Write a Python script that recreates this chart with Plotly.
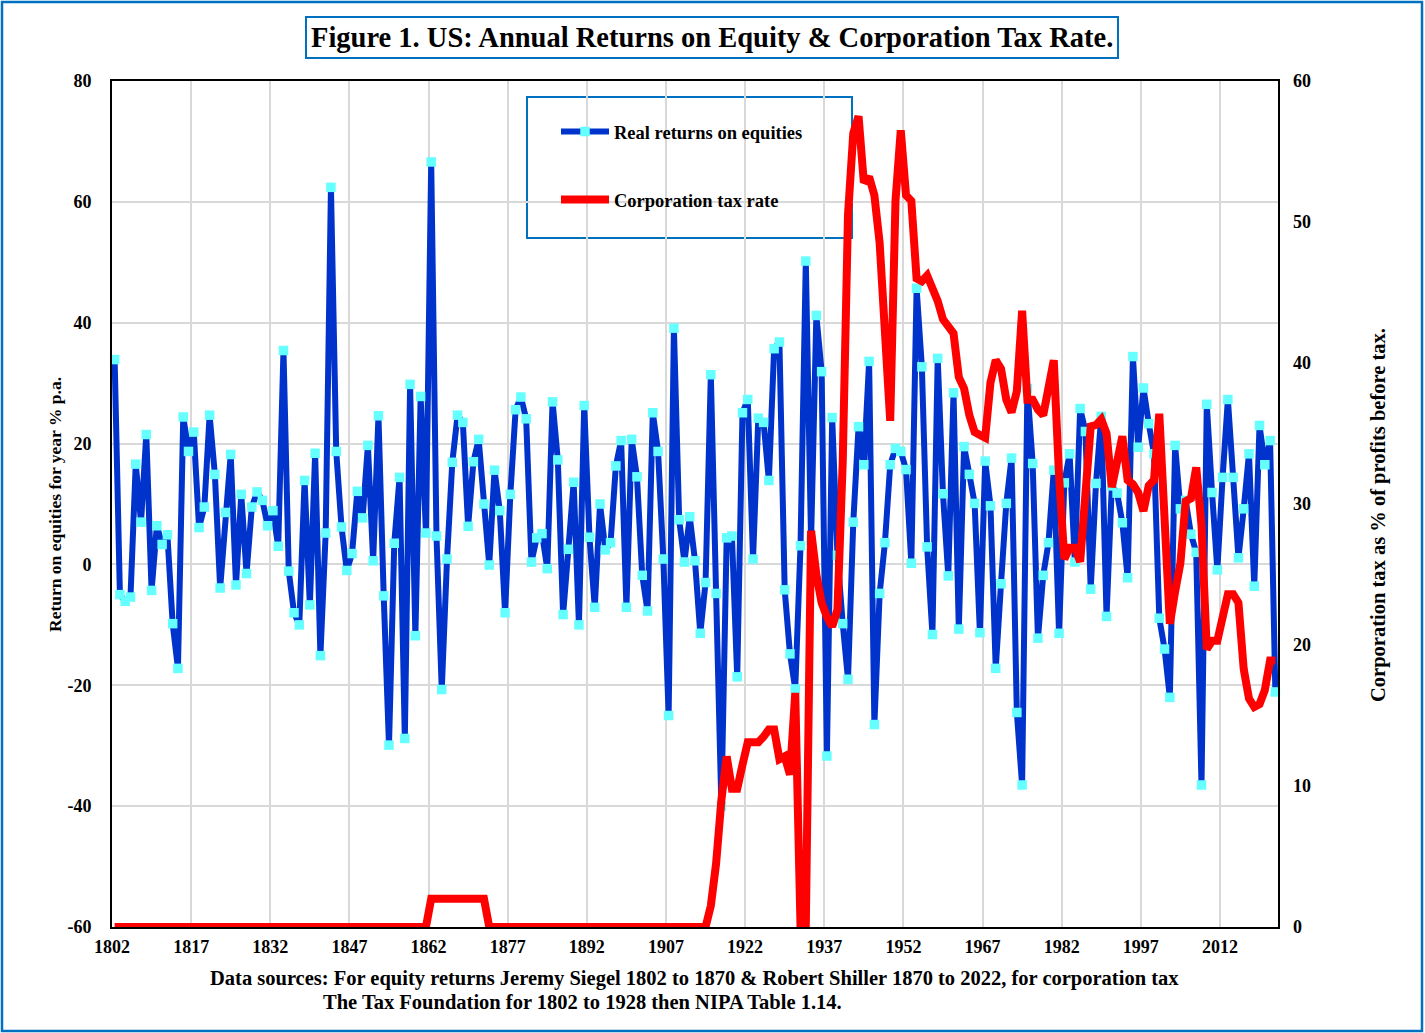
import plotly.graph_objects as go

# ---------------- data ----------------
years = list(range(1802, 2023))

real_returns = [
    33.9, -5.0, -6.1, -5.4, 16.6, 7.0, 21.5, -4.3, 6.4, 3.3,        # 1802-1811
    4.9, -9.8, -17.2, 24.4, 18.7, 21.9, 6.1, 9.5, 24.7, 14.9,       # 1812-1821
    -3.9, 8.6, 18.2, -3.4, 11.6, -1.5, 9.5, 12.0, 10.6, 6.4,        # 1822-1831
    8.9, 3.0, 35.4, -1.1, -8.0, -10.0, 13.9, -6.7, 18.4, -15.1,     # 1832-1841
    5.2, 62.4, 18.7, 6.2, -1.0, 1.8, 12.1, 7.7, 19.7, 0.6,          # 1842-1851
    24.6, -5.2, -29.9, 3.5, 14.4, -28.8, 29.8, -11.8, 27.8, 5.2,    # 1852-1861
    66.6, 4.7, -20.7, 0.9, 16.9, 24.7, 23.5, 6.3, 17.0, 20.7,       # 1862-1871
    10.0, -0.1, 15.6, 8.9, -8.0, 11.6, 25.6, 27.7, 24.1, 0.4,       # 1872-1881
    4.4, 5.1, -0.7, 26.9, 17.3, -8.3, 2.5, 13.6, -10.0, 26.3,       # 1882-1891
    4.5, -7.1, 10.0, 2.4, 3.6, 16.3, 20.5, -7.1, 20.7, 14.5,        # 1892-1901
    -1.8, -7.7, 25.1, 18.7, 0.9, -25.0, 39.1, 7.4, 0.4, 7.9,        # 1902-1911
    0.6, -11.4, -3.0, 31.4, -4.8, -40.0, 4.4, 4.7, -18.6, 25.1,     # 1912-1921
    27.3, 0.9, 24.2, 23.5, 13.9, 35.7, 36.8, -4.2, -14.8, -20.6,    # 1922-1931
    3.1, 50.2, 4.0, 41.2, 31.9, -31.7, 24.3, 1.5, -9.8, -19.0,      # 1932-1941
    7.0, 22.8, 16.5, 33.6, -26.5, -4.8, 3.6, 16.5, 19.2, 18.7,      # 1942-1951
    15.7, 0.2, 45.7, 32.7, 2.9, -11.6, 34.1, 11.7, -1.9, 28.4,      # 1952-1961
    -10.7, 19.5, 14.9, 10.1, -11.3, 17.1, 9.7, -17.2, -3.2, 10.1,   # 1962-1971
    17.6, -24.5, -36.5, 29.1, 16.7, -12.2, -1.8, 3.6, 15.6, -11.4,  # 1972-1981
    13.5, 18.3, 0.4, 25.8, 22.0, -4.1, 13.4, 24.5, -8.6, 13.0,      # 1982-1991
    11.8, 6.9, -2.2, 34.4, 19.4, 29.2, 23.3, 18.3, -8.9, -14.0,     # 1992-2001
    -22.0, 19.7, 9.2, 10.6, 5.0, 2.0, -36.5, 26.5, 11.9, -0.9,      # 2002-2011
    14.4, 27.3, 14.4, 1.1, 9.2, 18.3, -3.6, 23.0, 16.5, 20.5,       # 2012-2021
    -21.1,                                                          # 2022
]

corp_tax_rate = (
    [0.0] * 60                                                      # 1802-1861
    + [2.0] * 11                                                    # 1862-1872
    + [0.0] * 42                                                    # 1873-1914
    + [1.5, 4.5, 9.0, 12.1, 9.8, 9.8, 11.5]                         # 1915-1921
    + [13.1, 13.1, 13.1, 13.5, 14.0, 14.0, 11.9, 12.1, 10.8, 16.6]  # 1922-1931
    + [0.0, 0.0, 28.1, 25.0, 23.0, 22.0, 21.3, 22.5, 33.0, 50.5]    # 1932-1941
    + [56.3, 57.5, 52.8, 53.2, 51.9, 48.5, 42.9, 35.9, 51.5, 56.5]  # 1942-1951
    + [51.9, 51.5, 46.0, 45.8, 46.2, 45.4, 44.4, 43.1, 42.5, 42.1]  # 1952-1961
    + [39.0, 38.2, 36.3, 35.1, 34.9, 34.7, 38.6, 40.2, 39.6, 37.4]  # 1962-1971
    + [36.5, 38.0, 43.7, 37.4, 37.4, 36.7, 36.3, 38.2, 40.2, 32.0]  # 1972-1981
    + [26.1, 26.9, 26.9, 25.9, 31.5, 35.5, 35.6, 36.0, 35.0, 31.2]  # 1982-1991
    + [33.0, 34.8, 31.7, 31.4, 30.8, 29.5, 31.3, 31.7, 36.4, 28.0]  # 1992-2001
    + [21.5, 23.8, 25.8, 30.2, 30.4, 32.6, 28.5, 19.7, 20.3, 20.3]  # 2002-2011
    + [21.9, 23.6, 23.6, 23.0, 18.3, 16.2, 15.6, 15.8, 16.8, 18.9]  # 2012-2021
    + [18.9]                                                        # 2022
)

tick_years = [1802, 1817, 1832, 1847, 1862, 1877, 1892, 1907, 1922, 1937,
              1952, 1967, 1982, 1997, 2012]
left_ticks = [-60, -40, -20, 0, 20, 40, 60, 80]
right_ticks = [0, 10, 20, 30, 40, 50, 60]

title_text = "Figure 1. US: Annual Returns on Equity & Corporation Tax Rate."
left_title = "Return on equities for year % p.a."
right_title = "Corporation tax as % of profits before tax."
source_line1 = ("Data sources: For equity returns Jeremy Siegel 1802 to 1870 & Robert Shiller "
                "1870 to 2022, for corporation tax")
source_line2 = "The Tax Foundation for 1802 to 1928 then NIPA Table 1.14."

# ---------------- styling ----------------
FONT = "Liberation Serif, Times New Roman, serif"
FRAME_BLUE = "#0070C0"
W, H = 1425, 1033
L, R, T, B = 112, 1278, 81, 927   # plot area in pixels


def px_x(p):
    return (p - L) / (R - L)


def px_y(p):
    return (B - p) / (B - T)


def bold(size):
    return dict(family=FONT, size=size, color="black", weight="bold")


fig = go.Figure()

fig.add_trace(go.Scatter(
    x=years, y=real_returns, mode="lines+markers",
    name="Real returns on equities",
    line=dict(color="#0033CC", width=6),
    marker=dict(symbol="square", size=9.5, color="#66FFFF"),
    cliponaxis=False, legendgroup="a",
))
fig.add_trace(go.Scatter(
    x=years, y=corp_tax_rate, mode="lines",
    name="Corporation tax rate",
    line=dict(color="#FF0000", width=8),
    yaxis="y2", cliponaxis=False, legendgroup="b",
))

fig.update_layout(
    width=W, height=H,
    paper_bgcolor="white", plot_bgcolor="white",
    margin=dict(l=L, r=W - R, t=T, b=H - B),
    font=bold(18),
    showlegend=True,
    hovermode=False,
    legend=dict(
        x=px_x(556), y=px_y(113), xanchor="left", yanchor="top",
        bgcolor="rgba(0,0,0,0)", borderwidth=0,
        font=bold(18.5),
        tracegroupgap=41, itemwidth=48,
    ),
    xaxis=dict(
        range=[years[0] - 0.5, years[-1] + 0.5],
        tickvals=[t - 0.5 for t in tick_years],
        ticktext=[str(t) for t in tick_years],
        showgrid=True, gridcolor="#D9D9D9", gridwidth=2,
        showline=True, linecolor="black", linewidth=2, mirror=True,
        ticks="", zeroline=False,
        tickfont=bold(18),
        ticklabelstandoff=2,
    ),
    yaxis=dict(
        range=[-60, 80], tickvals=left_ticks,
        ticktext=[str(v) for v in left_ticks],
        showgrid=True, gridcolor="#D9D9D9", gridwidth=2,
        showline=True, linecolor="black", linewidth=2, mirror=True,
        ticks="", zeroline=False,
        tickfont=bold(18),
        ticklabelstandoff=15,
    ),
    yaxis2=dict(
        range=[0, 60], tickvals=right_ticks,
        ticktext=[str(v) for v in right_ticks],
        overlaying="y", side="right",
        showgrid=False, zeroline=False, showline=False, ticks="",
        tickfont=bold(18),
        ticklabelstandoff=14,
    ),
    shapes=[
        # outer frame
        dict(type="rect", xref="paper", yref="paper",
             x0=px_x(2), x1=px_x(1422), y0=px_y(1031), y1=px_y(2),
             line=dict(color=FRAME_BLUE, width=2.5), layer="below"),
        # legend frame
        dict(type="rect", xref="paper", yref="paper",
             x0=px_x(527), x1=px_x(852), y0=px_y(238), y1=px_y(97),
             line=dict(color=FRAME_BLUE, width=2), fillcolor="white", layer="below"),
    ],
    annotations=[
        dict(text=title_text, xref="paper", yref="paper",
             x=px_x(712), y=px_y(38), xanchor="center", yanchor="middle",
             showarrow=False, font=bold(28.5),
             bordercolor=FRAME_BLUE, borderwidth=2, borderpad=4, bgcolor="white"),
        dict(text=left_title, xref="paper", yref="paper",
             x=px_x(55), y=px_y(505), xanchor="center", yanchor="middle",
             textangle=-90, showarrow=False, font=bold(17.5)),
        dict(text=right_title, xref="paper", yref="paper",
             x=px_x(1378), y=px_y(515), xanchor="center", yanchor="middle",
             textangle=-90, showarrow=False, font=bold(20.5)),
        dict(text=source_line1, xref="paper", yref="paper",
             x=px_x(694), y=px_y(978), xanchor="center", yanchor="middle",
             showarrow=False, font=bold(20.5)),
        dict(text=source_line2, xref="paper", yref="paper",
             x=px_x(582), y=px_y(1002), xanchor="center", yanchor="middle",
             showarrow=False, font=bold(20.5)),
    ],
)

fig.write_html("out.html", config={"displayModeBar": False},
               post_script="document.body.style.margin='0';")
